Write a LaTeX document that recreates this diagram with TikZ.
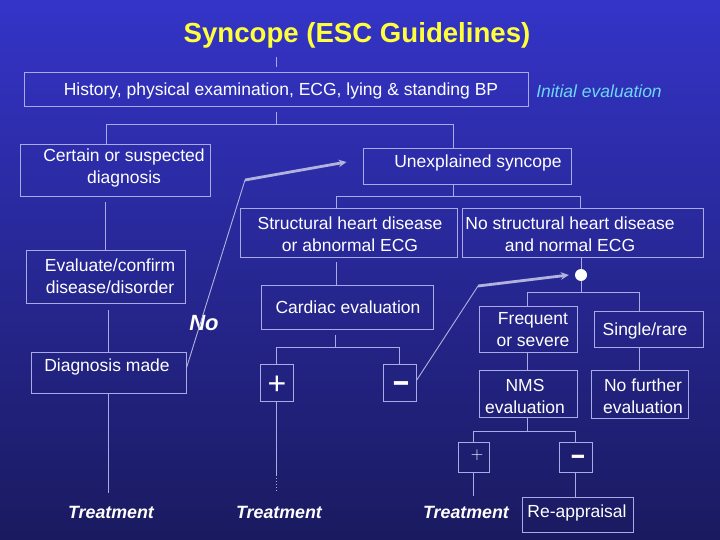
\documentclass[tikz,border=0pt]{standalone}
\usepackage{fontspec}
\setmainfont{Liberation Sans}
\usetikzlibrary{arrows.meta}
\definecolor{bgtop}{RGB}{52,52,200}
\definecolor{bgbot}{RGB}{26,26,96}
\definecolor{edgec}{RGB}{170,170,232}
\definecolor{arrowc}{RGB}{178,178,222}
\definecolor{ttl}{RGB}{255,255,60}
\definecolor{cyanish}{RGB}{110,215,245}
\begin{document}
\begin{tikzpicture}[x=1pt,y=-1pt,
  box/.style={draw=edgec, line width=0.9pt, inner sep=0pt},
  txt/.style={text=white, font=\fontsize{17.5}{22}\selectfont, align=center, inner sep=0pt},
  trt/.style={text=white, font=\fontsize{17.8}{22}\selectfont\bfseries\itshape, inner sep=0pt},
  conn/.style={draw=edgec, line width=0.9pt},
  thinarr/.style={draw=arrowc, line width=0.9pt},
  thickarr/.style={draw=arrowc, line width=2.8pt, -{Stealth[length=8pt,width=7.5pt]}},
  minustxt/.style={text=white, font=\fontsize{22}{22}\selectfont\bfseries, inner sep=0pt, anchor=base}]
\shade[top color=bgtop, bottom color=bgbot] (0,0) rectangle (720,540);
\useasboundingbox (0,0) rectangle (720,540);

% title
\node[text=ttl, font=\fontsize{27.6}{30}\selectfont\bfseries, inner sep=0pt] (title) at (357,35.5) {Syncope (ESC Guidelines)};

% boxes
\node[box, minimum width=504pt, minimum height=34pt] (hist) at (276,89) {};
\node[box, minimum width=190pt, minimum height=52pt] (cert) at (115,170) {};
\node[box, minimum width=208pt, minimum height=36pt] (unex) at (467,166) {};
\node[box, minimum width=217pt, minimum height=49pt] (struct) at (348.5,232.5) {};
\node[box, minimum width=241pt, minimum height=49pt] (nostr) at (582.5,232.5) {};
\node[box, minimum width=159pt, minimum height=53pt] (eval) at (105.5,276.5) {};
\node[box, minimum width=172pt, minimum height=44pt] (card) at (347,307) {};
\node[box, minimum width=155pt, minimum height=41pt] (diag) at (108.5,372.5) {};
\node[box, minimum width=98pt, minimum height=46pt] (freq) at (528,329) {};
\node[box, minimum width=109pt, minimum height=36pt] (single) at (648.5,329) {};
\node[box, minimum width=33pt, minimum height=37pt] (plusA) at (276.5,382.5) {};
\node[box, minimum width=33pt, minimum height=37pt] (minusA) at (399.5,382.5) {};
\node[box, minimum width=98pt, minimum height=47pt] (nms) at (528,393.5) {};
\node[box, minimum width=97pt, minimum height=48pt] (nofur) at (639.5,394) {};
\node[box, minimum width=31pt, minimum height=30pt] (plusB) at (473.5,457) {};
\node[box, minimum width=33pt, minimum height=30pt] (minusB) at (575.5,457) {};
\node[box, minimum width=111pt, minimum height=35pt] (reap) at (577.5,514.5) {};
\node[circle, fill=white, minimum size=12pt, inner sep=0pt] (dot) at (581,275) {};

% texts
\node[txt] (tHist) at (281,90.5) {History, physical examination, ECG, lying \& standing BP};
\node[text=cyanish, font=\fontsize{17.5}{22}\selectfont\itshape, inner sep=0pt] (tInit) at (599,91) {Initial evaluation};
\node[txt] (tCert) at (124,168) {Certain or suspected\\diagnosis};
\node[txt] (tUnex) at (478,163) {Unexplained syncope};
\node[txt] (tStruct) at (350,234) {Structural heart disease\\or abnormal ECG};
\node[txt] (tNostr) at (570,234) {No structural heart disease\\and normal ECG};
\node[txt] (tEval) at (110,276) {Evaluate/confirm\\disease/disorder};
\node[txt] (tCard) at (348,307) {Cardiac evaluation};
\node[text=white, font=\fontsize{22}{24}\selectfont\bfseries\itshape, inner sep=0pt] (tNo) at (204,323) {No};
\node[txt] (tFreq) at (533,330) {Frequent\\or severe};
\node[txt] (tSingle) at (645,331) {Single/rare};
\node[txt] (tDiag) at (107,367) {Diagnosis made};
\node[text=white, font=\fontsize{32}{32}\selectfont, inner sep=0pt] (tPlusA) at (277,385) {+};
\node[minustxt] (tMinusA) at (401,393) {\scalebox{1.3}[1.7]{–}};
\node[txt] (tNms) at (525,396) {NMS\\evaluation};
\node[txt] (tNofur) at (643,396) {No further\\evaluation};
\node[text=white, font=\fontsize{19}{19}\selectfont, inner sep=0pt] (tPlusB) at (477,455) {$+$};
\node[minustxt, font=\fontsize{19}{19}\selectfont\bfseries] (tMinusB) at (578,465.5) {\scalebox{1.3}[1.7]{–}};
\node[trt] (tr1) at (111,512) {Treatment};
\node[trt] (tr2) at (279,512) {Treatment};
\node[trt] (tr3) at (466,512) {Treatment};
\node[txt] (tReap) at (577,513) {Re-appraisal};

% connectors
\draw[conn] ([yshift=5pt]hist.north) -- ([yshift=15pt]hist.north);
\draw[conn] ([yshift=-6pt]hist.south) -- ++(0,12) coordinate (j1);
\draw[conn] ([xshift=-9pt]cert.north) |- (j1) -| ([xshift=-14pt]unex.north);
\draw[conn] ([yshift=-6pt]cert.south -| eval.north) -- (eval.north);
\draw[conn] ([yshift=-7pt]eval.south -| diag.north) -- (diag.north);
\draw[conn] (diag.south) -- ([yshift=13pt]diag.south |- tr1.north);

\draw[conn] ([xshift=-14pt]unex.south) -- ++(0,12) coordinate (j2);
\draw[conn] ([xshift=-12.5pt]struct.north) |- (j2) -| ([xshift=-2.5pt]nostr.north);
\draw[conn] ([xshift=-11pt]card.north) -- ++(0,-23);
\draw[conn] ([xshift=-12pt,yshift=-6pt]card.south) -- ++(0,12) coordinate (j3);
\draw[conn] (plusA.north) |- (j3) -| (minusA.north);
\draw[conn] (plusA.south) -- ++(0,74) coordinate (pd);
\draw[conn, dotted] (pd) -- ++(0,15);

\draw[conn] (nostr.south -| dot.north) -- (dot.north);
\draw[conn] (dot.south) -- ++(0,11) coordinate (j4);
\draw[conn] ([xshift=-1pt]freq.north) |- (j4) -| ([xshift=-9.5pt]single.north);
\draw[conn] ([xshift=-1pt]freq.south) -- ([xshift=-1pt]nms.north);
\draw[conn] (single.south -| nofur.north) -- (nofur.north);
\draw[conn] ([xshift=-1pt]nms.south) -- ++(0,14) coordinate (j5);
\draw[conn] (plusB.north) |- (j5) -| (minusB.north);
\draw[conn] (plusB.south) -- ++(0,24);
\draw[conn] (minusB.south) -- (minusB.south |- reap.north);

% "No" arrow
\coordinate (k1) at (245,180);
\draw[thinarr] ([yshift=4.5pt]diag.east) -- (k1);
\draw[thickarr] (k1) -- ([xshift=-16pt,yshift=4pt]unex.west);
% "-" arrow
\coordinate (k2) at (478,286);
\draw[thinarr] ([yshift=2pt]minusA.east) -- (k2);
\draw[thickarr] (k2) -- ([xshift=-6pt]dot.west);
\end{tikzpicture}
\end{document}
